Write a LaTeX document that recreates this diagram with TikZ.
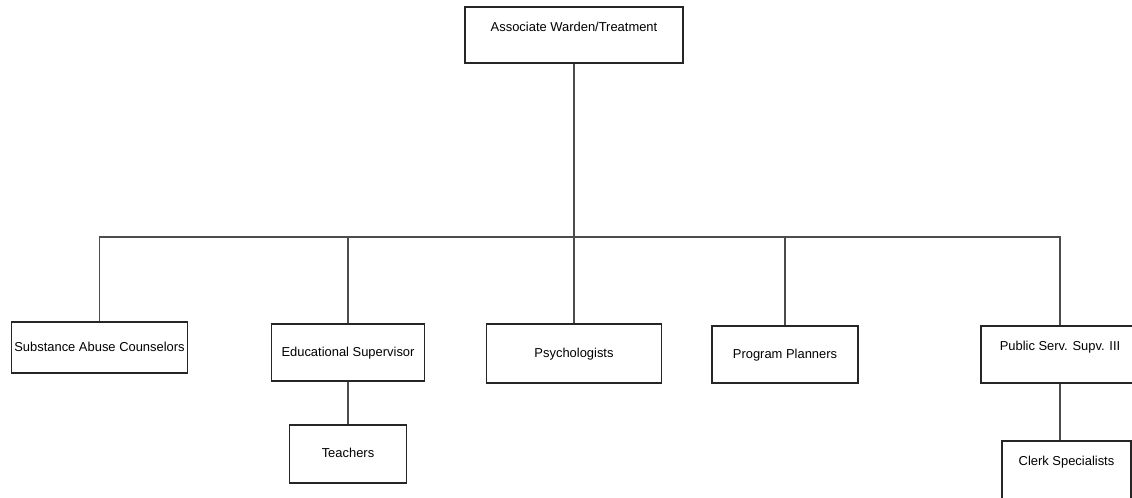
\documentclass[tikz,border=0pt]{standalone}
\usepackage{fontspec}
\setmainfont{Liberation Sans}
\usepackage{xcolor}
\usepackage{tikz}
\usetikzlibrary{positioning,calc}

\begin{document}
\begin{tikzpicture}[
    box/.style={draw=black!85, line width=1.2pt, align=center, inner xsep=2pt,
        font=\fontsize{9.2}{11}\selectfont, text height=2.4mm, text depth=0.6mm},
    upper/.style={text depth=4.2mm},
    link/.style={draw=black!70, line width=0.8pt},
]
    \useasboundingbox (0,0) rectangle (28.3,-12.45);

    \node[box, upper, minimum width=5.45cm, minimum height=1.4cm] (aw) at (14.35, -0.875) {Associate Warden/Treatment};

    \node[box, minimum width=4.375cm, minimum height=1.275cm] (sac) at (2.4875, -8.6875) {Substance Abuse Counselors};
    \node[box, minimum width=3.825cm, minimum height=1.425cm] (edu) at (8.7, -8.8125) {Educational Supervisor};
    \node[box, minimum width=4.375cm, minimum height=1.475cm] (psy) at (14.35, -8.8375) {Psychologists};
    \node[box, minimum width=3.65cm, minimum height=1.425cm] (prog) at (19.625, -8.8625) {Program Planners};
    \node[box, upper, minimum width=3.95cm, minimum height=1.425cm] (pss) at (26.5, -8.8625) {Public Serv. Supv. III};

    \node[box, minimum width=2.925cm, minimum height=1.45cm] (teach) at (8.7, -11.35) {Teachers};
    \node[box, upper, text depth=5.6mm, minimum width=3.225cm, minimum height=1.55cm] (clerk) at (26.6625, -11.8) {Clerk Specialists};

    \coordinate (bus) at (14.35, -5.925);

    \draw[link] (aw) -- (bus);
    \draw[link] (sac.north) |- (pss.north |- bus) -- (pss.north);
    \draw[link] (bus -| edu.north) -- (edu.north);
    \draw[link] (bus) -- (psy.north);
    \draw[link] (bus -| prog.north) -- (prog.north);
    \draw[link] (edu) -- (teach);
    \draw[link] (pss.south) -- (pss.south |- clerk.north);
\end{tikzpicture}
\end{document}
